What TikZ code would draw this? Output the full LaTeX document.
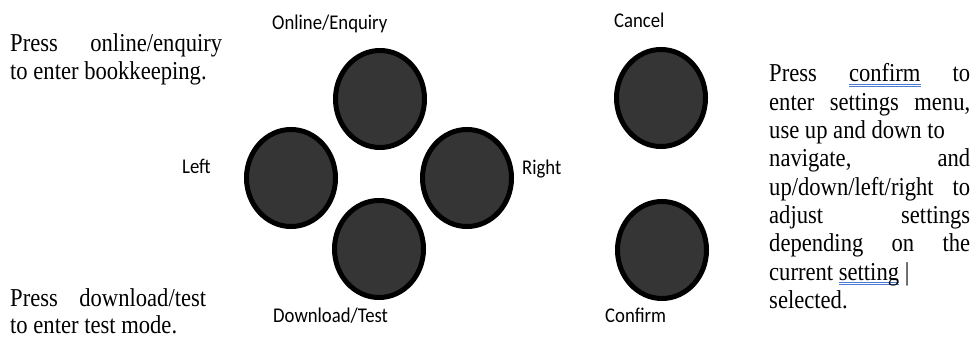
\documentclass[tikz,border=0pt]{standalone}
\usepackage{fontspec}
\setmainfont{Liberation Serif}
\newfontfamily\calibri{Carlito}
\usetikzlibrary{shapes.geometric}
\definecolor{btnfill}{HTML}{353535}
\definecolor{wordblue}{HTML}{4A7BD0}
\newcommand\blueul[1]{\leavevmode\setbox0\hbox{#1}\rlap{\textcolor{wordblue}{\rule[-2.4pt]{\wd0}{0.7pt}}}\rlap{\textcolor{wordblue}{\rule[-4.2pt]{\wd0}{0.7pt}}}\box0\relax}
\begin{document}
\begin{tikzpicture}[x=1pt,y=-1pt,
  btn/.style={ellipse, draw=black, line width=5pt, fill=btnfill, minimum width=89pt, minimum height=97pt, inner sep=0pt},
  lbl/.style={font=\calibri\fontsize{18.7}{22}\selectfont, anchor=base west, inner sep=0pt, yscale=1.12},
  body/.style={font=\fontsize{22.6}{26}\selectfont, anchor=base west, inner sep=0pt, yscale=1.14}]
\fill[white] (0,0) rectangle (974,339);
\useasboundingbox (0,0) rectangle (974,339);
% buttons
\node[btn] (up) at (380,99) {};
\node[btn] (left) at (291,178) {};
\node[btn] (right) at (467,178) {};
\node[btn] (down) at (379,249) {};
\node[btn] (cancel) at (661,98) {};
\node[btn] (confirm) at (662,250) {};
% labels
\node[lbl] (lup) at (272,30) {Online/Enquiry};
\node[lbl] (lleft) at (182,174) {Left};
\node[lbl] (lright) at (522,175) {Right};
\node[lbl] (ldown) at (273,322) {Download/Test};
\node[lbl] (lcancel) at (614,28) {Cancel};
\node[lbl] (lconfirm) at (605,322) {Confirm};
% left texts
\node[body] (t1a) at (10,52) {\makebox[212pt][s]{Press online/enquiry}};
\node[body] (t1b) at (10,80) {to enter bookkeeping.};
\node[body] (t2a) at (10,306) {\makebox[196pt][s]{Press download/test}};
\node[body] (t2b) at (10,333) {to enter test mode.};
% right text
\node[body] (r1) at (769,82.0) {\makebox[201pt][s]{Press \blueul{confirm} to}};
\node[body] (r2) at (769,110.3) {\makebox[201pt][s]{enter settings menu,}};
\node[body] (r3) at (769,138.6) {use up and down to};
\node[body] (r4) at (769,166.9) {\makebox[201pt][s]{navigate, and}};
\node[body] (r5) at (769,195.2) {\makebox[201pt][s]{up/down/left/right to}};
\node[body] (r6) at (769,223.5) {\makebox[201pt][s]{adjust settings}};
\node[body] (r7) at (769,251.8) {\makebox[201pt][s]{depending on the}};
\node[body] (r8) at (769,280.1) {current \blueul{setting} |};
\node[body] (r9) at (769,308.4) {selected.};
\end{tikzpicture}
\end{document}
